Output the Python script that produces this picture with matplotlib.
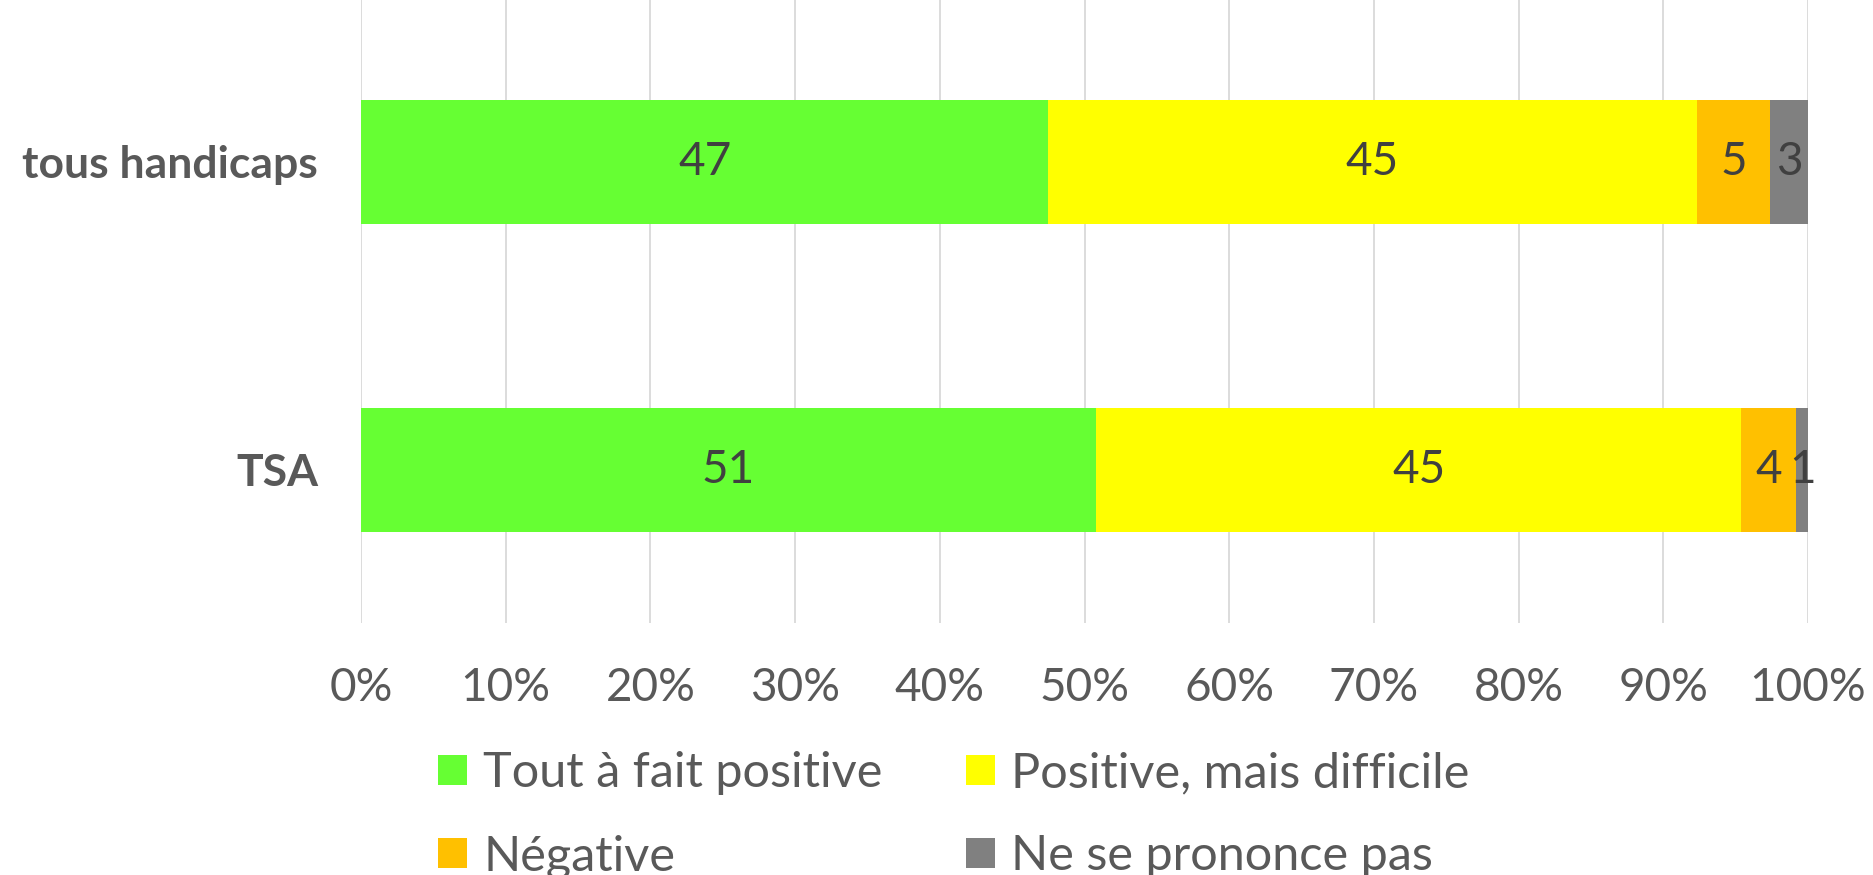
import numpy as np
import matplotlib.pyplot as plt
from matplotlib.patches import Patch

plt.rcParams['font.family'] = ['Lato', 'DejaVu Sans']

# data (percent), bottom to top
categories = ['TSA', 'tous handicaps']
series = ['Tout à fait positive', 'Positive, mais difficile', 'Négative', 'Ne se prononce pas']
tout_fait = [50.8, 47.5]
positive_diff = [44.6, 44.8]
negative = [3.8, 5.1]
ne_sait_pas = [0.8, 2.6]
labels_shown = [[51, 47], [45, 45], [4, 5], [1, 3]]
colors = ['#66FF33', '#FFFF00', '#FFC000', '#808080']

values = [tout_fait, positive_diff, negative, ne_sait_pas]

fig = plt.figure(figsize=(18.73, 8.75), dpi=100)
ax = fig.add_axes([361/1873, 1 - 623/875, (1808-361)/1873, 623/875])

y = np.arange(len(categories))
left = np.zeros(len(categories))
for vals, col, lab, shown in zip(values, colors, series, labels_shown):
    ax.barh(y, vals, left=left, height=0.4, color=col, label=lab, zorder=2)
    for yi, v, l, s in zip(y, vals, left, shown):
        ax.text(l + v/2, yi, str(s), ha='center', va='center',
                fontsize=33, color='#404040', zorder=3)
    left = left + np.array(vals)

ax.set_xlim(0, 100)
ax.set_ylim(-0.497, 1.526)
ax.set_xticks(np.arange(0, 101, 10))
ax.set_xticklabels([f'{t}%' for t in range(0, 101, 10)])
ax.set_yticks(y)
ax.set_yticklabels(categories, fontweight='bold')
ax.tick_params(axis='x', length=0, pad=32, labelsize=33, labelcolor='#595959')
ax.tick_params(axis='y', length=0, pad=31, labelsize=32, labelcolor='#595959')
ax.grid(axis='x', color='#D9D9D9', lw=1.3, zorder=0)
for s in ax.spines.values():
    s.set_visible(False)

# legend, row by row as in the original
order = [0, 2, 1, 3]
handles = [Patch(facecolor=colors[i]) for i in order]
names = [series[i] for i in order]
fig.legend(handles, names, ncol=2, loc='center left',
           bbox_to_anchor=(438/1873, 60/875), frameon=False,
           fontsize=35, labelcolor='#595959', borderpad=0, borderaxespad=0,
           handlelength=0.6, handleheight=0.58, handletextpad=0.33,
           columnspacing=1.72, labelspacing=0.8)

fig.savefig('out.png', dpi=100)
